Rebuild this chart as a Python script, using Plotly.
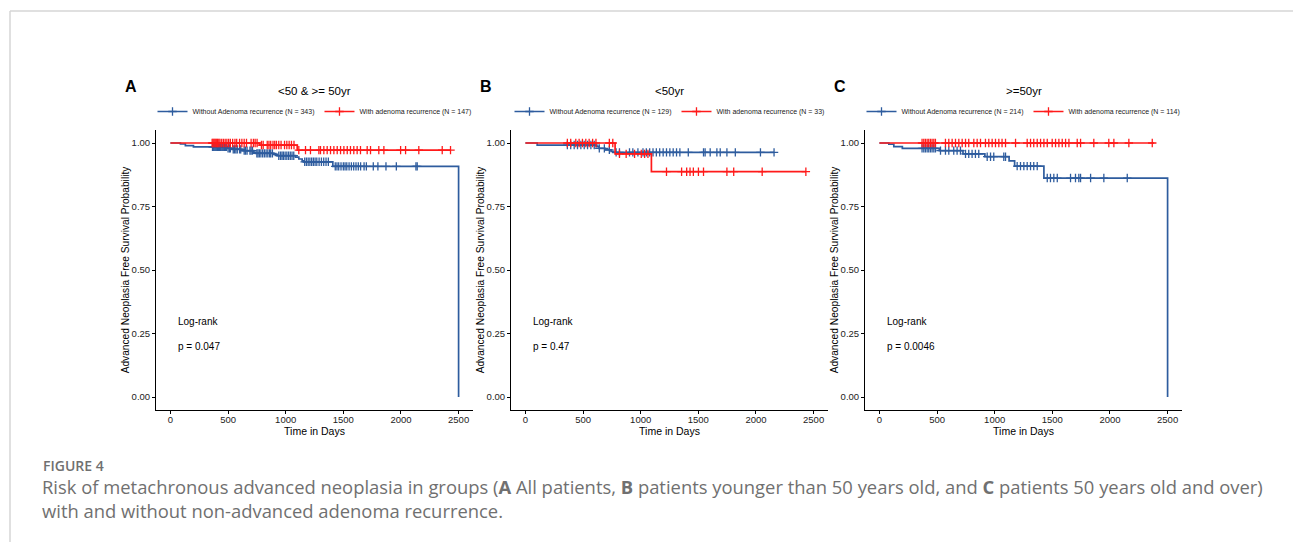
import plotly.graph_objects as go

W, H = 1293, 542

# ---------------- data ----------------
panel_letters = ["A", "B", "C"]
panel_titles = ["&lt;50 &amp; &gt;= 50yr", "&lt;50yr", "&gt;=50yr"]
group_names = ["Without Adenoma recurrence", "With adenoma recurrence"]
group_n = [[343, 147], [129, 33], [214, 114]]
pvalues = ["0.047", "0.47", "0.0046"]
x_ticks = [0, 500, 1000, 1500, 2000, 2500]
y_ticks = [0, 0.25, 0.5, 0.75, 1.0]
y_ticklabels = ["0.00", "0.25", "0.50", "0.75", "1.00"]

# Panel A - without adenoma recurrence
a_wo_time = [0, 87, 130, 200, 492, 535, 622, 723, 738, 897, 926, 1085, 1114, 1143, 1157, 1409, 2500]
a_wo_surv = [1.0, 0.996, 0.990, 0.985, 0.979, 0.975, 0.970, 0.963, 0.959, 0.955, 0.950, 0.944, 0.937, 0.930, 0.926, 0.908, 0.0]
a_wo_end = 2500
a_wo_cens = [365, 372, 380, 388, 395, 402, 410, 418, 425, 433, 440, 448, 455, 463, 470, 478, 486, 500, 512, 520,
             545, 556, 568, 580, 600, 610, 640, 652, 665, 690, 700, 712, 750, 760, 772, 785, 800, 815, 830, 845,
             860, 870, 885, 940, 955, 968, 980, 995, 1010, 1025, 1040, 1055, 1070, 1165, 1180, 1195, 1210, 1225,
             1240, 1255, 1270, 1290, 1310, 1330, 1350, 1370, 1430, 1445, 1460, 1480, 1500, 1515, 1530, 1550,
             1570, 1590, 1610, 1630, 1650, 1680, 1700, 1760, 1800, 1870, 1960, 2130, 2141]
# Panel A - with adenoma recurrence
a_w_time = [0, 773, 1100]
a_w_surv = [1.0, 0.992, 0.972]
a_w_end = 2430
a_w_cens = [362, 370, 378, 386, 394, 402, 410, 420, 430, 445, 460, 475, 490, 505, 520, 540, 560, 575, 600, 620,
            640, 660, 700, 720, 735, 752, 790, 805, 840, 855, 870, 890, 905, 920, 940, 960, 990, 1010, 1030, 1050,
            1072, 1114, 1172, 1215, 1288, 1302, 1331, 1360, 1389, 1418, 1447, 1476, 1505, 1534, 1562, 1591, 1620,
            1649, 1707, 1736, 1808, 1852, 1997, 2040, 2155, 2358, 2430]

# Panel B - without adenoma recurrence
b_wo_time = [0, 102, 615, 640, 690, 743, 760]
b_wo_surv = [1.0, 0.992, 0.986, 0.979, 0.973, 0.967, 0.963]
b_wo_end = 2157
b_wo_cens = [364, 393, 423, 452, 481, 510, 539, 568, 597, 641, 685, 728, 787, 816, 903, 932, 976, 1020, 1049,
             1078, 1107, 1136, 1165, 1195, 1224, 1253, 1282, 1311, 1340, 1413, 1545, 1559, 1603, 1661, 1690,
             1748, 1821, 2039, 2157]
# Panel B - with adenoma recurrence
b_w_time = [0, 778, 1093]
b_w_surv = [1.0, 0.957, 0.887]
b_w_end = 2433
b_w_cens = [364, 393, 437, 466, 495, 524, 553, 583, 612, 728, 758, 816, 874, 947, 1005, 1034, 1063, 1224, 1355,
            1399, 1428, 1457, 1501, 1545, 1748, 1807, 2054, 2433]

# Panel C - without adenoma recurrence
c_wo_time = [0, 82, 125, 199, 520, 725, 915, 1125, 1173, 1427, 2500]
c_wo_surv = [1.0, 0.995, 0.986, 0.979, 0.970, 0.957, 0.946, 0.930, 0.909, 0.862, 0.0]
c_wo_end = 2500
c_wo_cens = [370, 385, 399, 414, 428, 443, 457, 472, 486, 530, 573, 602, 645, 674, 703, 747, 775, 804, 833, 862,
             935, 964, 992, 1079, 1094, 1195, 1224, 1253, 1282, 1311, 1339, 1369, 1456, 1484, 1513, 1543, 1658,
             1701, 1730, 1745, 1832, 1947, 2150]
# Panel C - with adenoma recurrence
c_w_time = [0]
c_w_surv = [1.0]
c_w_end = 2384
c_w_cens = [370, 385, 399, 414, 428, 443, 457, 472, 486, 573, 602, 631, 660, 689, 718, 747, 775, 819, 848, 877,
            920, 949, 978, 1007, 1036, 1064, 1094, 1181, 1282, 1311, 1339, 1369, 1398, 1427, 1456, 1499, 1528,
            1557, 1586, 1615, 1644, 1716, 1745, 1860, 1990, 2034, 2164, 2367]

panels = [
    [(a_wo_time, a_wo_surv, a_wo_end, a_wo_cens), (a_w_time, a_w_surv, a_w_end, a_w_cens)],
    [(b_wo_time, b_wo_surv, b_wo_end, b_wo_cens), (b_w_time, b_w_surv, b_w_end, b_w_cens)],
    [(c_wo_time, c_wo_surv, c_wo_end, c_wo_cens), (c_w_time, c_w_surv, c_w_end, c_w_cens)],
]

# ---------------- style ----------------
colors = ["#2E5C9E", "#FF1A1A"]
FONT = "Liberation Sans, Arial, sans-serif"
panel_left_px = [156, 511, 865]
panel_w_px = 317
y_bot_px, y_top_px = 409.7, 130.3


def step_value(times, surv, t):
    v = surv[0]
    for ti, si in zip(times, surv):
        if ti <= t:
            v = si
    return v


fig = go.Figure()
annotations = []
layout_axes = {}

for p in range(3):
    ax = "" if p == 0 else str(p + 1)
    xref, yref = "x" + ax, "y" + ax
    legend_name = "legend" if p == 0 else "legend" + str(p + 1)
    x0 = panel_left_px[p] / W
    x1 = (panel_left_px[p] + panel_w_px) / W
    xc = (x0 + x1) / 2
    for g in range(2):
        times, surv, end, cens = panels[p][g]
        lx = list(times)
        ly = list(surv)
        if lx[-1] < end:
            lx.append(end)
            ly.append(ly[-1])
        fig.add_trace(go.Scatter(
            x=lx, y=ly, mode="lines", line=dict(color=colors[g], width=1.7, shape="hv"),
            xaxis=xref, yaxis=yref, showlegend=False, hoverinfo="skip"))
        cy = [step_value(times, surv, t) for t in cens]
        fig.add_trace(go.Scatter(
            x=cens, y=cy, mode="markers",
            marker=dict(symbol="cross-thin", size=6, color=colors[g],
                        line=dict(color=colors[g], width=1.3)),
            xaxis=xref, yaxis=yref, showlegend=False, hoverinfo="skip"))
        fig.add_trace(go.Scatter(
            x=[None], y=[None], mode="lines+markers",
            name=f"{group_names[g]} (N = {group_n[p][g]})",
            line=dict(color=colors[g], width=1.6),
            marker=dict(symbol="cross-thin", size=6, color=colors[g],
                        line=dict(color=colors[g], width=1.3)),
            xaxis=xref, yaxis=yref, legend=legend_name, showlegend=True))

    layout_axes["xaxis" + ax] = dict(
        domain=[x0, x1], anchor=yref, range=[-125, 2625],
        tickvals=x_ticks, ticks="outside", ticklen=3, tickwidth=1, tickcolor="#000",
        showline=True, linecolor="#000", linewidth=1, showgrid=False, zeroline=False,
        ticklabelstandoff=-2,
        tickfont=dict(family=FONT, size=9.5, color="#222"),
        title=dict(text="Time in Days", font=dict(family=FONT, size=10.5, color="#000"), standoff=0))
    layout_axes["yaxis" + ax] = dict(
        domain=[1 - y_bot_px / H, 1 - y_top_px / H], anchor=xref, range=[-0.05, 1.05],
        tickvals=y_ticks, ticktext=y_ticklabels, ticks="outside", ticklen=3, tickwidth=1,
        tickcolor="#000", showline=True, linecolor="#000", linewidth=1, showgrid=False,
        zeroline=False, tickfont=dict(family=FONT, size=9.5, color="#222"),
        title=dict(text="Advanced Neoplasia Free Survival Probability",
                   font=dict(family=FONT, size=10.2, color="#000"), standoff=0))
    layout_axes[legend_name] = dict(
        orientation="h", x=xc, xanchor="center", y=1 - 111.5 / H, yanchor="middle",
        font=dict(family=FONT, size=7, color="#222"), itemwidth=30,
        bgcolor="rgba(0,0,0,0)", tracegroupgap=0)

    # panel letter and title
    annotations.append(dict(text="<b>" + panel_letters[p] + "</b>", xref="paper", yref="paper",
                            x=(panel_left_px[p] - 25) / W, y=1 - 87 / H, xanchor="center",
                            yanchor="middle", showarrow=False,
                            font=dict(family=FONT, size=16, color="#000")))
    annotations.append(dict(text=panel_titles[p], xref="paper", yref="paper", x=xc,
                            y=1 - 91 / H, xanchor="center", yanchor="middle", showarrow=False,
                            font=dict(family=FONT, size=11.5, color="#000")))
    # log-rank text
    annotations.append(dict(text="Log-rank", xref=xref, yref=yref, x=50, y=0.296,
                            xanchor="left", yanchor="middle", showarrow=False,
                            font=dict(family=FONT, size=10, color="#000")))
    annotations.append(dict(text="p = " + pvalues[p], xref=xref, yref=yref, x=50, y=0.198,
                            xanchor="left", yanchor="middle", showarrow=False,
                            font=dict(family=FONT, size=10, color="#000")))

# caption
CAP = "Open Sans, sans-serif"
annotations.append(dict(text="FIGURE 4", xref="paper", yref="paper", x=41 / W, y=1 - 465.5 / H,
                        xanchor="left", yanchor="middle", showarrow=False,
                        font=dict(family=CAP, size=14, color="#707070", weight=600)))
annotations.append(dict(
    text="Risk of metachronous advanced neoplasia in groups (<b>A</b> All patients, <b>B</b> patients "
         "younger than 50 years old, and <b>C</b> patients 50 years old and over)<br>"
         "with and without non-advanced adenoma recurrence.",
    xref="paper", yref="paper", x=40 / W, y=1 - 498.5 / H, xanchor="left", yanchor="middle",
    align="left", showarrow=False, font=dict(family=CAP, size=18.4, color="#707070")))

shapes = [
    dict(type="line", xref="paper", yref="paper", x0=10 / W, x1=1, y0=1 - 11 / H, y1=1 - 11 / H,
         line=dict(color="#d6d6d6", width=1.5)),
    dict(type="line", xref="paper", yref="paper", x0=10 / W, x1=10 / W, y0=0, y1=1 - 11 / H,
         line=dict(color="#d6d6d6", width=1.5)),
]

fig.update_layout(
    width=W, height=H, margin=dict(l=0, r=0, t=0, b=0),
    paper_bgcolor="white", plot_bgcolor="white",
    annotations=annotations, shapes=shapes, **layout_axes)

fig.write_html("out.html", config={"displayModeBar": False},
               post_script="document.body.style.margin='0';document.body.style.padding='0';"
                           "document.body.style.overflow='hidden';")
